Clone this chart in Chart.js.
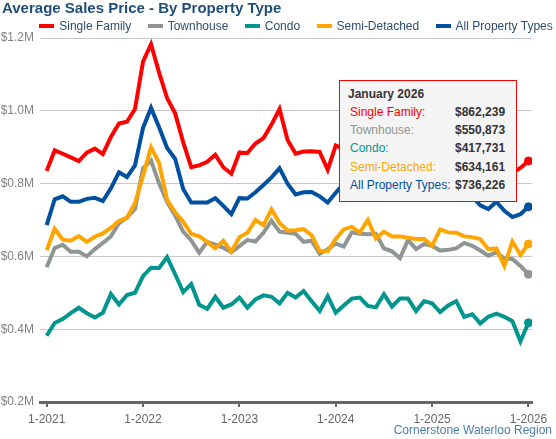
<!DOCTYPE html>
<html>
<head>
<meta charset="utf-8">
<script src="https://cdn.jsdelivr.net/npm/chart.js@4.4.1/dist/chart.umd.min.js"></script>
<style>
  html, body { margin: 0; padding: 0; background: #fff; }
  body { font-family: "Liberation Sans", Arial, sans-serif; }
  #wrap { position: relative; width: 556px; height: 439px; overflow: hidden; }
  #chart { position: absolute; left: 0; top: 0; }
  #title { position: absolute; left: 2px; top: 0; font-weight: bold; font-size: 15px; line-height: 15px; color: #1f4e79; white-space: nowrap; }
  #legend { position: absolute; left: 40px; width: 512px; top: 20px; display: flex; justify-content: center; font-size: 12px; line-height: 12px; color: #2e4d6e; }
  #legend .item { display: flex; align-items: center; margin: 0 8.2px; white-space: nowrap; }
  #legend .swatch { width: 15px; height: 4px; margin-right: 5px; }
  #credit { position: absolute; right: 4px; top: 424px; font-size: 12px; line-height: 12px; color: #4a7db3; white-space: nowrap; }
  #tip { position: absolute; left: 339px; top: 80px; width: 176px; height: 120px; border: 1px solid #ff0000; background: #f5f5f5; font-size: 12px; color: #333; }
  #tip .ttl { position: absolute; left: 8px; top: 6px; line-height: 15px; font-weight: bold; white-space: nowrap; }
  #tip .row { position: absolute; left: 0; width: 176px; height: 18px; line-height: 18px; white-space: nowrap; }
  #tip .lab { position: absolute; left: 10px; }
  #tip .val { position: absolute; left: 115px; font-weight: bold; color: #333; }
</style>
</head>
<body>
<div id="wrap">
  <canvas id="chart" width="556" height="439"></canvas>
  <div id="title">Average Sales Price - By Property Type</div>
  <div id="legend"></div>
  <div id="tip"></div>
  <div id="credit">Cornerstone Waterloo Region</div>
</div>
<script>
// monthly averages, Jan 2021 .. Jan 2026
const yearTicks = ["1-2021", "1-2022", "1-2023", "1-2024", "1-2025", "1-2026"];
const seriesNames = ["Single Family", "Townhouse", "Condo", "Semi-Detached", "All Property Types"];
const seriesColors = ["#ff0000", "#8f9592", "#00968f", "#ffa500", "#0050a0"];
const tipTitle = "January 2026";

const singleFamily = [835000, 891000, 882000, 872000, 862000, 885000, 896000, 881000, 928000, 965000,
  970000, 1005000, 1135000, 1183000, 1105000, 1035000, 993000, 914000, 845000, 850000,
  860000, 879000, 845000, 827000, 885000, 884000, 910000, 925000, 962000, 1005000,
  920000, 882000, 888000, 889000, 887000, 838000, 905000, 895000, 915000, 910000,
  925000, 900000, 895000, 880000, 870000, 890000, 880000, 885000, 870000, 895000,
  905000, 910000, 895000, 890000, 870000, 855000, 865000, 850000, 830000, 843000, 862239];
const townhouse = [570000, 623000, 632000, 613000, 613000, 600000, 620000, 637000, 655000, 691000,
  707000, 730000, 842000, 863000, 800000, 750000, 712000, 668000, 644000, 610000,
  640000, 632000, 624000, 612000, 628000, 645000, 641000, 665000, 698000, 668000,
  665000, 662000, 640000, 643000, 607000, 620000, 635000, 627000, 666000, 662000,
  661000, 662000, 622000, 614000, 595000, 645000, 620000, 634000, 629000, 616000,
  618000, 622000, 637000, 629000, 616000, 602000, 611000, 594000, 593000, 574000, 550873];
const condo = [382000, 417000, 428000, 444000, 459000, 444000, 432000, 445000, 497000, 468000,
  494000, 500000, 546000, 569000, 568000, 598000, 551000, 502000, 524000, 467000,
  456000, 489000, 459000, 468000, 487000, 459000, 482000, 493000, 489000, 471000,
  500000, 487000, 505000, 477000, 450000, 491000, 445000, 465000, 484000, 487000,
  464000, 460000, 496000, 462000, 484000, 484000, 450000, 477000, 471000, 447000,
  465000, 477000, 434000, 441000, 416000, 434000, 443000, 434000, 422000, 367000, 417731];
const semiDetached = [617000, 676000, 646000, 643000, 656000, 640000, 654000, 663000, 678000, 697000,
  706000, 746000, 822000, 900000, 857000, 755000, 721000, 695000, 662000, 655000,
  640000, 622000, 643000, 613000, 653000, 665000, 700000, 686000, 729000, 692000,
  671000, 672000, 675000, 658000, 615000, 614000, 648000, 674000, 681000, 666000,
  700000, 649000, 668000, 655000, 655000, 651000, 648000, 648000, 629000, 674000,
  666000, 665000, 655000, 653000, 648000, 620000, 622000, 574000, 641000, 604000, 634161];
const allTypes = [686000, 757000, 765000, 750000, 750000, 758000, 761000, 752000, 787000, 831000,
  818000, 850000, 953000, 1008000, 955000, 898000, 868000, 785000, 748000, 748000,
  748000, 760000, 739000, 716000, 760000, 759000, 776000, 796000, 817000, 842000,
  800000, 770000, 776000, 777000, 765000, 748000, 775000, 800000, 805000, 795000,
  810000, 790000, 785000, 775000, 770000, 785000, 775000, 780000, 765000, 790000,
  795000, 800000, 785000, 765000, 740000, 730000, 750000, 725000, 708000, 716000, 736226];

const allSeries = [singleFamily, townhouse, condo, semiDetached, allTypes];
const lastIdx = singleFamily.length - 1;
const fontFamily = '"Liberation Sans", Arial, sans-serif';

function money(n) { return "$" + Math.round(n).toLocaleString("en-US"); }

// legend
const legendEl = document.getElementById("legend");
legendEl.innerHTML = seriesNames.map((n, k) =>
  `<div class="item"><span class="swatch" style="background:${seriesColors[k]}"></span>${n}</div>`).join("");

// fixed tooltip for the last month
const tipEl = document.getElementById("tip");
tipEl.innerHTML = `<div class="ttl">${tipTitle}</div>` + seriesNames.map((n, k) =>
  `<div class="row" style="top:${22 + k * 18.2}px"><span class="lab" style="color:${seriesColors[k]}">${n}:</span><span class="val">${money(allSeries[k][lastIdx])}</span></div>`).join("");

const datasets = allSeries.map((arr, k) => ({
  label: seriesNames[k],
  data: arr.map((v, i) => ({ x: i, y: v })),
  borderColor: seriesColors[k],
  backgroundColor: seriesColors[k],
  borderWidth: 4,
  tension: 0,
  pointRadius: ctx => ctx.dataIndex === lastIdx ? 4 : 0,
  pointBorderWidth: 1,
  pointHoverRadius: 0,
  order: seriesNames.length - 1 - k
}));

new Chart(document.getElementById("chart").getContext("2d"), {
  type: "line",
  data: { datasets },
  options: {
    responsive: false,
    animation: false,
    events: [],
    layout: { padding: { top: 38, right: 24, bottom: 15, left: 0 } },
    plugins: { legend: { display: false }, title: { display: false }, tooltip: { enabled: false } },
    scales: {
      x: {
        type: "linear", min: -0.83, max: 60.44,
        afterBuildTicks: s => { s.ticks = yearTicks.map((t, i) => ({ value: i * 12 })); },
        afterFit: s => { s.height = 22; },
        ticks: { color: "#666", font: { size: 12, family: fontFamily }, padding: 5, maxRotation: 0, autoSkip: false,
          callback: v => yearTicks[Math.round(v / 12)] },
        grid: { drawOnChartArea: false, drawTicks: true, tickLength: 5, color: "#666", lineWidth: 2 },
        border: { display: true, color: "#666", width: 3 }
      },
      y: {
        min: 200000, max: 1200000,
        afterFit: s => { s.width = 40; },
        ticks: { stepSize: 200000, color: "#808080", font: { size: 12, family: fontFamily }, padding: 6,
          callback: v => "$" + (v / 1e6).toFixed(1) + "M" },
        grid: { color: "#c8c8c8", lineWidth: 1, drawTicks: false },
        border: { display: false }
      }
    }
  }
});
</script>
</body>
</html>
